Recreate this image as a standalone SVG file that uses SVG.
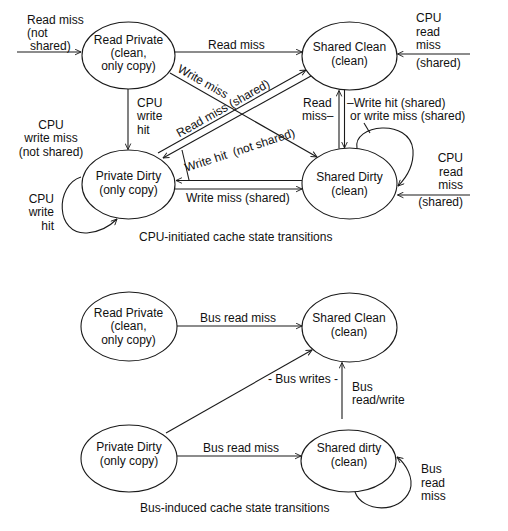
<svg xmlns="http://www.w3.org/2000/svg" width="508" height="531" viewBox="0 0 508 531">
<style>
.n{fill:none;stroke:#1a1a1a;stroke-width:1.1}
.c{fill:none;stroke:#1a1a1a;stroke-width:1.1}
.a{marker-end:url(#arr)}
text{font-family:"Liberation Sans",Arial,sans-serif;font-size:12px;fill:#111}
.m{text-anchor:middle}
.e{text-anchor:end}
</style>
<defs>
<marker id="arr" viewBox="0 0 10 10" refX="9.5" refY="5" markerWidth="7" markerHeight="7" orient="auto" markerUnits="userSpaceOnUse">
<path d="M1,1 L9.5,5 L1,9" fill="none" stroke="#1a1a1a" stroke-width="1.3"/>
</marker>
</defs>
<rect width="508" height="531" fill="#fff"/>

<g id="top-read-private">
<ellipse class="n" cx="128.5" cy="55.5" rx="46.5" ry="33.5"/>
<text class="m" x="128.5" y="44">Read Private</text>
<text class="m" x="128.5" y="57">(clean,</text>
<text class="m" x="128.5" y="70">only copy)</text>
</g>
<g id="top-shared-clean">
<ellipse class="n" cx="349.5" cy="56" rx="47.5" ry="34"/>
<text class="m" x="349.5" y="51">Shared Clean</text>
<text class="m" x="349.5" y="65">(clean)</text>
</g>
<g id="top-private-dirty">
<ellipse class="n" cx="128.5" cy="184.5" rx="46.5" ry="34.5"/>
<text class="m" x="128.5" y="180">Private Dirty</text>
<text class="m" x="128.5" y="194">(only copy)</text>
</g>
<g id="top-shared-dirty">
<ellipse class="n" cx="349.5" cy="183.5" rx="47.5" ry="35.5"/>
<text class="m" x="349.5" y="181">Shared Dirty</text>
<text class="m" x="349.5" y="195">(clean)</text>
</g>

<g id="bot-read-private">
<ellipse class="n" cx="129" cy="326.5" rx="48" ry="34.5"/>
<text class="m" x="128.5" y="317">Read Private</text>
<text class="m" x="128.5" y="330">(clean,</text>
<text class="m" x="128.5" y="344">only copy)</text>
</g>
<g id="bot-shared-clean">
<ellipse class="n" cx="349.5" cy="327.5" rx="47.5" ry="34.5"/>
<text class="m" x="349" y="322">Shared Clean</text>
<text class="m" x="349" y="336">(clean)</text>
</g>
<g id="bot-private-dirty">
<ellipse class="n" cx="129" cy="458.5" rx="48" ry="33.5"/>
<text class="m" x="129" y="451">Private Dirty</text>
<text class="m" x="129" y="465">(only copy)</text>
</g>
<g id="bot-shared-dirty">
<ellipse class="n" cx="348.5" cy="461" rx="47.5" ry="31"/>
<text class="m" x="349" y="452">Shared dirty</text>
<text class="m" x="349" y="466">(clean)</text>
</g>

<g id="connectors">
<path class="c a" d="M17,52 H81"/>
<path class="c a" d="M175,52 H302"/>
<path class="c a" d="M470,54 H397.5"/>
<path class="c a" d="M128,89 V149.5"/>
<path class="c a" d="M170,73 L317,157"/>
<path class="c a" d="M158,153 L306,70"/>
<path class="c a" d="M311,76 L163,158"/>
<path class="c" d="M182,150 L189,180"/>
<path class="c a" d="M302,180.5 H176"/>
<path class="c a" d="M175,189 H302"/>
<path class="c a" d="M339,148.5 V90.5"/>
<path class="c a" d="M344.5,89.5 V148"/>
<path class="c a" d="M357,148.5 C352,124 410,118 413,150 C414,166 406,178 398,186"/>
<path class="c" d="M364,123 L370,133"/>
<path class="c a" d="M470,195 H397.5"/>
<path class="c a" d="M81,177 C55,185 55,235 87,233 C100,232 110,226 117,219"/>

<path class="c a" d="M177,326 H302"/>
<path class="c a" d="M166,433 L312,350"/>
<path class="c a" d="M342,419 V362.5"/>
<path class="c a" d="M177,456 H301"/>
<path class="c a" d="M355,492 C362,512 400,515 410,490 C414,478 406,464 397,457"/>
</g>

<g id="labels">
<text x="27" y="24">Read miss</text>
<text x="27" y="37">(not</text>
<text x="30" y="50">shared)</text>
<text x="208" y="49">Read miss</text>
<text x="416" y="22">CPU</text>
<text x="416" y="36">read</text>
<text x="416" y="49">miss</text>
<text x="416" y="67">(shared)</text>
<text x="303" y="107">Read</text>
<text x="302" y="120">miss–</text>
<text x="347" y="107">–Write hit (shared)</text>
<text x="350" y="120">or write miss (shared)</text>
<text x="137" y="107">CPU</text>
<text x="137" y="120">write</text>
<text x="137" y="134">hit</text>
<text class="m" x="51" y="129">CPU</text>
<text class="m" x="51" y="142">write miss</text>
<text class="m" x="51" y="156">(not shared)</text>
<text class="e" x="463" y="162">CPU</text>
<text class="e" x="463" y="176">read</text>
<text class="e" x="463" y="189">miss</text>
<text class="e" x="463" y="206">(shared)</text>
<text class="e" x="54" y="203">CPU</text>
<text class="e" x="54" y="216">write</text>
<text class="e" x="54" y="230">hit</text>
<text x="186" y="202">Write miss (shared)</text>
<text class="m" transform="translate(201,85) rotate(29.7)">Write miss</text>
<text class="m" transform="translate(225,112) rotate(-29.3)">Read miss (shared)</text>
<text class="m" transform="translate(241,154) rotate(-18)" xml:space="preserve">Write hit  (not shared)</text>
<text x="139" y="241">CPU-initiated cache state transitions</text>

<text x="200" y="322">Bus read miss</text>
<text x="268" y="383">- Bus writes -</text>
<text x="352" y="391">Bus</text>
<text x="352" y="404">read/write</text>
<text x="203" y="452">Bus read miss</text>
<text x="421" y="473">Bus</text>
<text x="421" y="487">read</text>
<text x="421" y="500">miss</text>
<text x="140" y="512">Bus-induced cache state transitions</text>
</g>
</svg>
